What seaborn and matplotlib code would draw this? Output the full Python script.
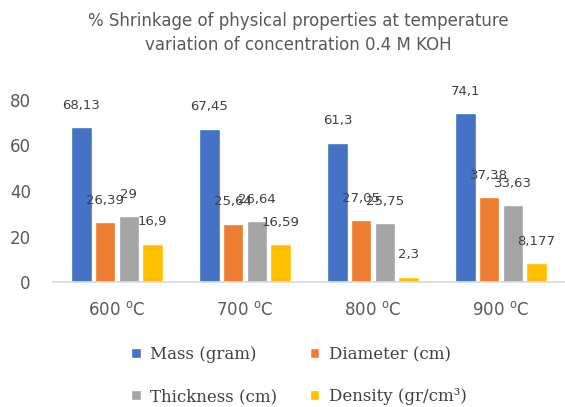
import matplotlib
matplotlib.use("Agg")
import matplotlib.pyplot as plt
import seaborn as sns
import pandas as pd

temperatures = ["600 $^{\\mathrm{o}}$C", "700 $^{\\mathrm{o}}$C", "800 $^{\\mathrm{o}}$C", "900 $^{\\mathrm{o}}$C"]
series_names = ["Mass (gram)", "Diameter (cm)", "Thickness (cm)", "Density (gr/cm³)"]
mass = [68.13, 67.45, 61.3, 74.1]
diameter = [26.39, 25.64, 27.05, 37.38]
thickness = [29, 26.64, 25.75, 33.63]
density = [16.9, 16.59, 2.3, 8.177]
colors = ["#4472C4", "#ED7D31", "#A5A5A5", "#FFC000"]
y_ticks = [0, 20, 40, 60, 80]

rows = []
for name, vals in zip(series_names, [mass, diameter, thickness, density]):
    for t, v in zip(temperatures, vals):
        rows.append({"Temperature": t, "Property": name, "Shrinkage": v})
df = pd.DataFrame(rows)

sns.set_theme(style="white")
plt.rcParams["font.family"] = ["DejaVu Sans"]

fig = plt.figure(figsize=(5.65, 4.07), dpi=100)
ax = fig.add_axes([53 / 565, 1 - 282 / 407, 1 - 53 / 565, (282 - 100) / 407])

sns.barplot(data=df, x="Temperature", y="Shrinkage", hue="Property",
            palette=colors, width=0.74, gap=0.14, ax=ax, saturation=1)

for cont in ax.containers:
    labels = [f"{b.get_height():g}".replace(".", ",") for b in cont]
    ax.bar_label(cont, labels=labels, padding=11, fontsize=9.5, color="#404040")

ax.set_ylim(0, 80)
ax.set_yticks(y_ticks)
ax.set_xlabel("")
ax.set_ylabel("")
for s in ["top", "right", "left"]:
    ax.spines[s].set_visible(False)
ax.spines["bottom"].set_color("#D9D9D9")
ax.spines["bottom"].set_linewidth(1.2)
ax.tick_params(axis="both", length=0, labelsize=12, colors="#595959")
ax.tick_params(axis="y", pad=16)
ax.tick_params(axis="x", pad=14)

# legend is filled column-wise, so interleave to read row-wise
handles, labels = ax.get_legend_handles_labels()
ax.legend_.remove()
order = [0, 2, 1, 3]
fig.legend([handles[i] for i in order], [labels[i] for i in order], loc="upper left",
           bbox_to_anchor=(123 / 565, 1 - 338 / 407), ncol=2, frameon=False,
           prop={"family": "DejaVu Serif", "size": 12}, labelcolor="#404040",
           handlelength=0.55, handleheight=0.55, handletextpad=0.6,
           columnspacing=1.95, labelspacing=1.5, borderpad=0)

fig.text(298 / 565, 1 - 33 / 407,
         "% Shrinkage of physical properties at temperature\nvariation of concentration 0.4 M KOH",
         ha="center", va="center", fontsize=12, color="#595959", linespacing=1.45)

fig.savefig("out.png", dpi=100)
